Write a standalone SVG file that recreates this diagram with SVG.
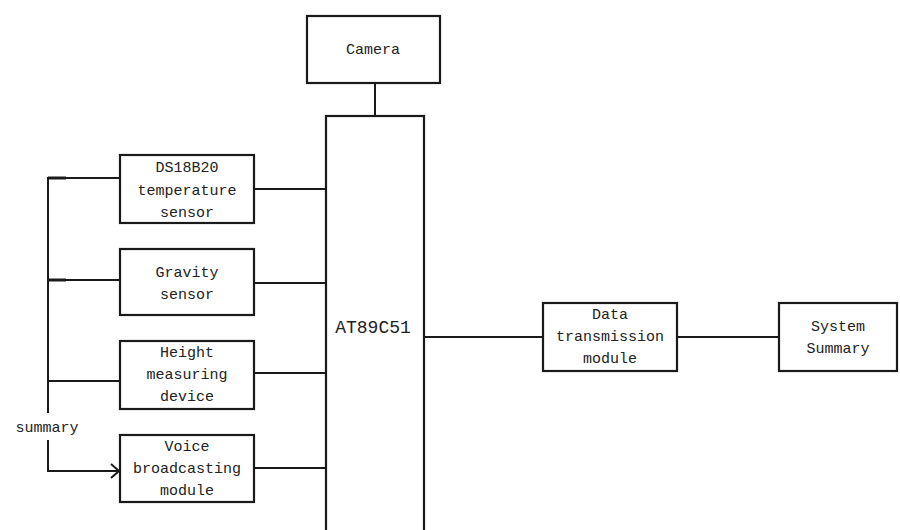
<svg xmlns="http://www.w3.org/2000/svg" width="900" height="530" viewBox="0 0 900 530">
<style>
.box{fill:#fff;stroke:#1a1a1a;stroke-width:2.2}
.ln{fill:none;stroke:#1a1a1a;stroke-width:2}
text{font-family:"Liberation Mono","DejaVu Sans Mono",monospace;font-size:15px;fill:#222;text-anchor:middle}
</style>
<defs>
<marker id="arr" viewBox="0 0 10 16" refX="9" refY="8" markerWidth="10" markerHeight="16" markerUnits="userSpaceOnUse" orient="auto">
<path d="M1,1 L9,8 L1,15" fill="none" stroke="#1a1a1a" stroke-width="2"/>
</marker>
</defs>
<rect width="900" height="530" fill="#fff"/>
<g id="connectors">
<line class="ln" x1="375" y1="83" x2="375" y2="116"/>
<line class="ln" x1="254" y1="189" x2="326" y2="189"/>
<line class="ln" x1="254" y1="283" x2="326" y2="283"/>
<line class="ln" x1="254" y1="373" x2="326" y2="373"/>
<line class="ln" x1="254" y1="468" x2="326" y2="468"/>
<line class="ln" x1="424" y1="337" x2="543" y2="337"/>
<line class="ln" x1="677" y1="337" x2="779" y2="337"/>
<path class="ln" d="M66,178 H48 V413"/>
<line class="ln" x1="48" y1="178" x2="120" y2="178"/>
<line class="ln" x1="48" y1="280" x2="120" y2="280"/>
<line class="ln" x1="48" y1="381" x2="120" y2="381"/>
<line x1="48" y1="178" x2="66" y2="178" stroke="#1a1a1a" stroke-width="3"/>
<line x1="48" y1="280" x2="66" y2="280" stroke="#1a1a1a" stroke-width="3"/>
<path class="ln" d="M48,440 V471 H119" marker-end="url(#arr)"/>
<text x="47" y="432">summary</text>
</g>
<g id="camera">
<rect class="box" x="307" y="16" width="133" height="67"/>
<text x="373" y="54">Camera</text>
</g>
<g id="at89c51">
<rect class="box" x="326" y="116" width="98" height="430"/>
<text x="373" y="333" style="font-size:18px">AT89C51</text>
</g>
<g id="ds18b20">
<rect class="box" x="120" y="155" width="134" height="68"/>
<text x="187" y="172">DS18B20</text>
<text x="187" y="195">temperature</text>
<text x="187" y="217">sensor</text>
</g>
<g id="gravity">
<rect class="box" x="120" y="249" width="134" height="66"/>
<text x="187" y="277">Gravity</text>
<text x="187" y="299">sensor</text>
</g>
<g id="height">
<rect class="box" x="120" y="341" width="134" height="68"/>
<text x="187" y="357">Height</text>
<text x="187" y="379">measuring</text>
<text x="187" y="401">device</text>
</g>
<g id="voice">
<rect class="box" x="120" y="435" width="134" height="67"/>
<text x="187" y="451">Voice</text>
<text x="187" y="473">broadcasting</text>
<text x="187" y="495">module</text>
</g>
<g id="data">
<rect class="box" x="543" y="303" width="134" height="68"/>
<text x="610" y="319">Data</text>
<text x="610" y="341">transmission</text>
<text x="610" y="363">module</text>
</g>
<g id="system">
<rect class="box" x="779" y="303" width="118" height="68"/>
<text x="838" y="331">System</text>
<text x="838" y="353">Summary</text>
</g>
</svg>
